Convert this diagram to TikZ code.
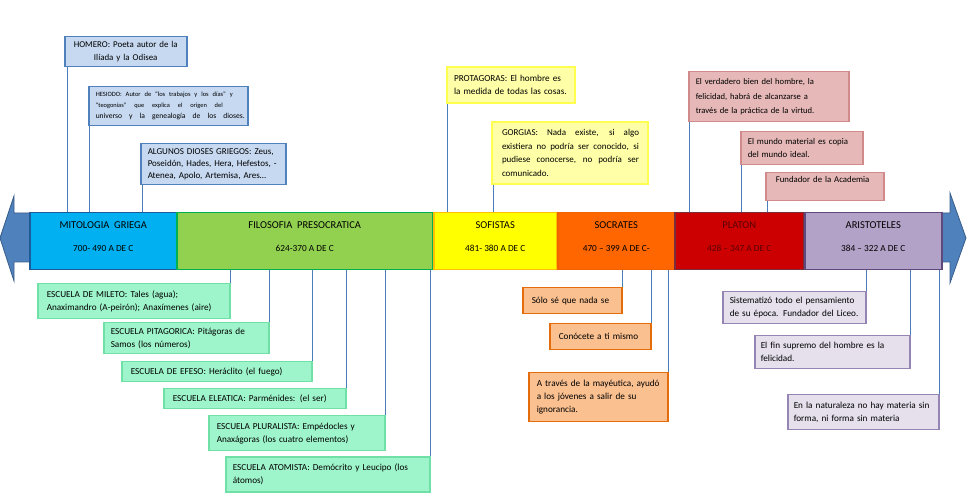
\documentclass[tikz,border=0pt]{standalone}
\usepackage{fontspec}
\setmainfont{Carlito}
\definecolor{arrowfill}{HTML}{4F81BD}
\definecolor{arrowdraw}{HTML}{385D8A}
\definecolor{mitofill}{HTML}{00B0F0}
\definecolor{mitodraw}{HTML}{1C5C9A}
\definecolor{presofill}{HTML}{92D050}
\definecolor{presodraw}{HTML}{00B050}
\definecolor{soffill}{HTML}{FFFF00}
\definecolor{sofdraw}{HTML}{FFC000}
\definecolor{socfill}{HTML}{FF6600}
\definecolor{socdraw}{HTML}{F26300}
\definecolor{platfill}{HTML}{CC0000}
\definecolor{platdraw}{HTML}{7A2E3B}
\definecolor{platext}{HTML}{5A0000}
\definecolor{arfill}{HTML}{B3A2C7}
\definecolor{ardraw}{HTML}{5F497A}
\definecolor{bluefill}{HTML}{C6D9F1}
\definecolor{bluedraw}{HTML}{4F81BD}
\definecolor{yelfill}{HTML}{FFFFA8}
\definecolor{yeldraw}{HTML}{FFFF50}
\definecolor{pinkfill}{HTML}{E6B9B8}
\definecolor{pinkdraw}{HTML}{D08A8A}
\definecolor{grfill}{HTML}{9EF5CB}
\definecolor{grdraw}{HTML}{6FE0A6}
\definecolor{orfill}{HTML}{FAC090}
\definecolor{ordraw}{HTML}{E46C0A}
\definecolor{purfill}{HTML}{E5E0EC}
\definecolor{purdraw}{HTML}{9585B5}
\definecolor{conncol}{HTML}{4A7EBB}
\newcommand\ml[1]{\mbox{#1}}
\newcommand\jl[2]{\makebox[#1pt][s]{\spaceskip=.25em plus 10em\relax #2}}
\begin{document}
\begin{tikzpicture}[x=1pt,y=-1pt,
  base/.style={anchor=north west, inner ysep=0pt, line width=1.5pt, align=left,
     font=\fontsize{9.2}{13}\selectfont},
  bar/.style={anchor=north west, inner sep=0pt, line width=1.5pt, align=center,
     minimum height=57pt, font=\fontsize{10.5}{13}\selectfont},
  bluenote/.style={base, fill=bluefill, draw=bluedraw},
  yelnote/.style={base, fill=yelfill, draw=yeldraw, line width=2pt},
  pinknote/.style={base, fill=pinkfill, draw=pinkdraw},
  grnote/.style={base, fill=grfill, draw=grdraw},
  ornote/.style={base, fill=orfill, draw=ordraw},
  purnote/.style={base, fill=purfill, draw=purdraw},
  conn/.style={draw=conncol, line width=0.7pt}
]
\useasboundingbox (0,0) rectangle (970,494);

% big double arrow
\fill[arrowfill, draw=arrowdraw, line width=0.8pt]
  (0,238) -- (14,196) -- (14,213) -- (950,213) -- (950,193) -- (966,238)
  -- (950,283) -- (950,262) -- (14,262) -- (14,281) -- cycle;

% timeline boxes
\node[bar, fill=mitofill, draw=mitodraw, minimum width=147pt] (mito) at (29,212)
  {MITOLOGIA\ \ GRIEGA\\[10pt]{\fontsize{9.3}{12}\selectfont 700- 490 A DE C}\\[-3pt]\mbox{}};
\node[bar, fill=presofill, draw=presodraw, minimum width=256pt] (preso) at (176,212)
  {FILOSOFIA\ \ PRESOCRATICA\\[10pt]{\fontsize{9.3}{12}\selectfont 624-370 A DE C}\\[-3pt]\mbox{}};
\node[bar, fill=soffill, draw=sofdraw, minimum width=123pt] (sof) at (433,212)
  {SOFISTAS\\[10pt]{\fontsize{9.3}{12}\selectfont 481- 380 A DE C}\\[-3pt]\mbox{}};
\node[bar, fill=socfill, draw=socdraw, minimum width=117pt] (socr) at (557,212)
  {SOCRATES\\[10pt]{\fontsize{9.3}{12}\selectfont 470 – 399 A DE C-}\\[-3pt]\mbox{}};
\node[bar, fill=platfill, draw=platdraw, minimum width=129pt] (plat) at (674,212)
  {\color{platext}PLATON\\[10pt]{\color{platext}\fontsize{9.3}{12}\selectfont 428 – 347 A DE C}\\[-3pt]\mbox{}};
\node[bar, fill=arfill, draw=ardraw, minimum width=137pt] (arist) at (804,212)
  {ARISTOTELES\\[10pt]{\fontsize{9.3}{12}\selectfont 384 – 322 A DE C}\\[-3pt]\mbox{}};

% top notes: mythology
\node[bluenote, minimum width=122pt, minimum height=30pt, inner xsep=3pt, text width=116pt, align=center, font=\fontsize{8.9}{12.5}\selectfont] (homero) at (64,36)
  {\ml{HOMERO: Poeta autor de la}\\\ml{Ilíada y la Odisea}};
\node[bluenote, minimum width=159pt, minimum height=39pt, inner xsep=7pt, text width=145pt, font=\fontsize{6}{11}\selectfont] (hesiodo) at (88,86)
  {{\fontsize{6.5}{11}\selectfont\jl{137}{HESIODO: Autor de “los trabajos y los días” y}}\\
   {\fontsize{6.4}{11}\selectfont\jl{127}{“teogonías” que explica el origen del}}\\
   {\fontsize{7.6}{11}\selectfont\jl{149}{universo y la genealogía de los dioses.}}};
\node[bluenote, minimum width=145pt, minimum height=41pt, inner xsep=7pt, text width=131pt, font=\fontsize{9}{12}\selectfont] (dioses) at (140,143)
  {\ml{ALGUNOS DIOSES GRIEGOS: Zeus,}\\\ml{Poseidón, Hades, Hera, Hefestos, -}\\\ml{Atenea, Apolo, Artemisa, Ares…}};

% top notes: sofistas
\node[yelnote, minimum width=128pt, minimum height=36pt, inner xsep=7pt, text width=114pt] (protagoras) at (446,66)
  {\ml{PROTAGORAS: El hombre es}\\\ml{la medida de todas las cosas.}};
\node[yelnote, minimum width=156pt, minimum height=62pt, inner xsep=10pt, text width=136pt, font=\fontsize{9}{13.5}\selectfont] (gorgias) at (491,121)
  {\jl{137}{GORGIAS: Nada existe, si algo}\\\jl{137}{existiera no podría ser conocido, si}\\\jl{137}{pudiese conocerse, no podría ser}\\\ml{comunicado.}};

% top notes: platon
\node[pinknote, minimum width=160pt, minimum height=50pt, inner xsep=7pt, text width=146pt, font=\fontsize{8.6}{14.5}\selectfont] (plat1) at (688,71)
  {\ml{El verdadero bien del hombre, la}\\\ml{felicidad, habrá de alcanzarse a}\\\ml{través de la práctica de la virtud.}};
\node[pinknote, minimum width=122pt, minimum height=33pt, inner xsep=7pt, text width=108pt, font=\fontsize{8.8}{13}\selectfont] (plat2) at (740,131)
  {\ml{El mundo material es copia}\\\ml{del mundo ideal.}};
\node[pinknote, minimum width=118pt, minimum height=28pt, inner xsep=10pt, text width=98pt, font=\fontsize{8.8}{13}\selectfont] (plat3) at (765,172)
  {\ml{Fundador de la Academia}\\[-3pt]\strut};

% bottom notes: presocratic schools
\node[grnote, minimum width=192pt, minimum height=35pt, inner xsep=9pt, text width=174pt] (mileto) at (37,283)
  {\ml{ESCUELA DE MILETO: Tales (agua);}\\\ml{Anaximandro (A-peirón); Anaxímenes (aire)}};
\node[grnote, minimum width=165pt, minimum height=31pt, inner xsep=7pt, text width=151pt] (pitag) at (103,322)
  {\ml{ESCUELA PITAGORICA: Pitágoras de}\\\ml{Samos (los números)}};
\node[grnote, minimum width=190pt, minimum height=20pt, inner xsep=9pt, text width=172pt] (efeso) at (121,361)
  {\ml{ESCUELA DE EFESO: Heráclito (el fuego)}};
\node[grnote, minimum width=182pt, minimum height=20pt, inner xsep=9pt, text width=164pt] (eleat) at (163,388)
  {\ml{ESCUELA ELEATICA: Parménides: (el ser)}};
\node[grnote, minimum width=176pt, minimum height=35pt, inner xsep=8pt, text width=160pt] (plural) at (208,415)
  {\ml{ESCUELA PLURALISTA: Empédocles y}\\\ml{Anaxágoras (los cuatro elementos)}};
\node[grnote, minimum width=204pt, minimum height=35pt, inner xsep=7pt, text width=190pt] (atom) at (225,456)
  {\ml{ESCUELA ATOMISTA: Demócrito y Leucipo (los}\\\ml{átomos)}};

% bottom notes: socrates
\node[ornote, minimum width=99pt, minimum height=26pt, inner xsep=9pt, text width=81pt] (sn1) at (522,287)
  {\ml{Sólo sé que nada se}};
\node[ornote, minimum width=101pt, minimum height=26pt, inner xsep=9pt, text width=83pt] (sn2) at (549,323)
  {\ml{Conócete a ti mismo}};
\node[ornote, minimum width=139pt, minimum height=49pt, inner xsep=8pt, text width=123pt] (sn3) at (528,372)
  {\ml{A través de la mayéutica, ayudó}\\\ml{a los jóvenes a salir de su}\\\ml{ignorancia.}};

% bottom notes: aristoteles
\node[purnote, minimum width=143pt, minimum height=32pt, inner xsep=7pt, text width=129pt] (an1) at (722,291)
  {\ml{Sistematizó todo el pensamiento}\\\ml{de su época. Fundador del Liceo.}};
\node[purnote, minimum width=155pt, minimum height=33pt, inner xsep=6pt, text width=143pt] (an2) at (754,335)
  {\ml{El fin supremo del hombre es la}\\\ml{felicidad.}};
\node[purnote, minimum width=151pt, minimum height=35pt, inner xsep=6pt, text width=139pt] (an3) at (787,394)
  {\ml{En la naturaleza no hay materia sin}\\\ml{forma, ni forma sin materia}};

% connectors from top notes
\coordinate (c1) at ([xshift=3pt]homero.south west);
\coordinate (c2) at ([xshift=1pt]hesiodo.south west);
\coordinate (c3) at ([xshift=2pt]dioses.south west);
\coordinate (c4) at ([xshift=1pt]protagoras.south west);
\coordinate (c5) at ([xshift=2pt]gorgias.south west);
\coordinate (c6) at ([xshift=1pt]plat1.south west);
\coordinate (c7) at ([xshift=1pt]plat2.south west);
\coordinate (c8) at ([xshift=2pt]plat3.south west);
\draw[conn] (c1) -- (c1 |- mito.north);
\draw[conn] (c2) -- (c2 |- mito.north);
\draw[conn] (c3) -- (c3 |- mito.north);
\draw[conn] (c4) -- (c4 |- sof.north);
\draw[conn] (c5) -- (c5 |- sof.north);
\draw[conn] (c6) -- (c6 |- plat.north);
\draw[conn] (c7) -- (c7 |- plat.north);
\draw[conn] (c8) -- (c8 |- plat.north);

% connectors to bottom notes
\foreach \n in {mileto,pitag,efeso,eleat,plural,atom}
  \draw[conn] (\n.north east) -- (\n.north east |- preso.south);
\foreach \n in {sn1,sn2,sn3}
  \draw[conn] (\n.north east) -- (\n.north east |- socr.south);
\foreach \n in {an1,an2,an3}
  \draw[conn] (\n.north east) -- (\n.north east |- arist.south);
\end{tikzpicture}
\end{document}
